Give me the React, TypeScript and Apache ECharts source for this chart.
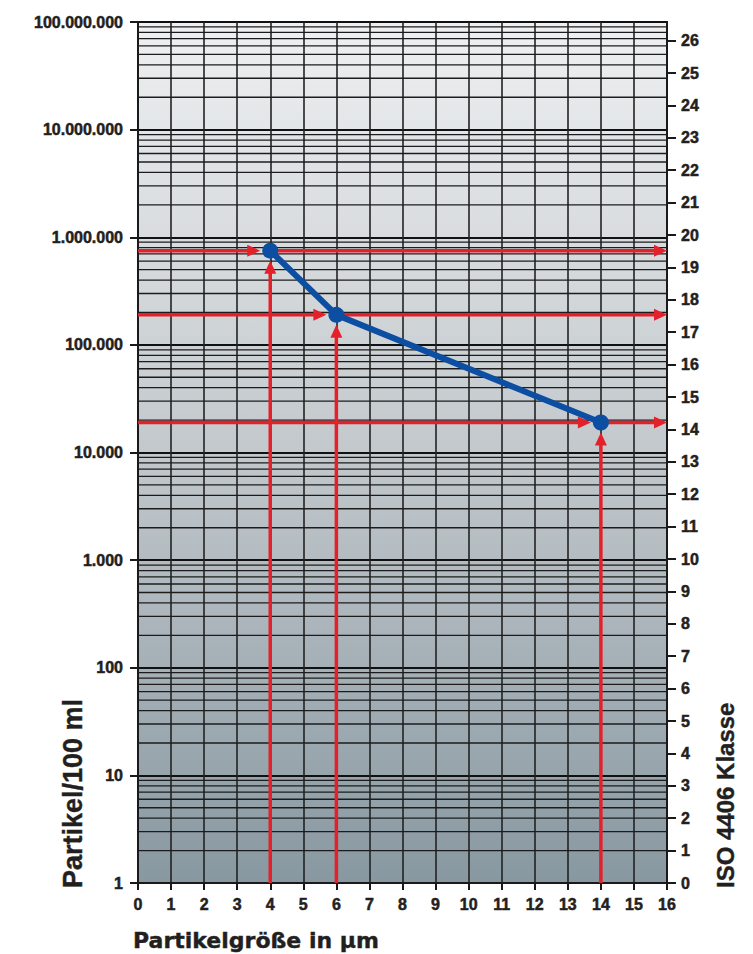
import React, { useEffect, useRef } from 'react';
import * as echarts from 'echarts';

// Measured data (particle size in µm, particles per 100 ml)
const particleSizes = [4, 6, 14];
const particleCounts = [750000, 190000, 19000];

// Axis structure
const sizeTicks = [0, 1, 2, 3, 4, 5, 6, 7, 8, 9, 10, 11, 12, 13, 14, 15, 16];
const isoClasses = [0, 1, 2, 3, 4, 5, 6, 7, 8, 9, 10, 11, 12, 13, 14, 15, 16, 17, 18, 19, 20, 21, 22, 23, 24, 25, 26];
const decades = [1, 10, 100, 1000, 10000, 100000, 1000000, 10000000];
const minorFactors = [2, 3, 4, 5, 6, 7, 8, 9];

const FONT = '"Liberation Sans", Arial, Helvetica, sans-serif';
const WIDE_FONT = '"DejaVu Sans", "Liberation Sans", Arial, sans-serif';
const INK = '#231f20';
const RED = '#e4202a';
const BLUE = '#0c4ea2';

function fmtDE(v: number): string {
  return String(Math.round(v)).replace(/\B(?=(\d{3})+(?!\d))/g, '.');
}

export default function App() {
  const ref = useRef<HTMLDivElement>(null);

  useEffect(() => {
    const chart = echarts.init(ref.current!, null, { renderer: 'svg' });

    const minorValues: number[][] = [];
    decades.forEach((d) => minorFactors.forEach((f) => minorValues.push([0, d * f])));
    const points = particleSizes.map((x, i) => [x, particleCounts[i]]);

    const labelStyle = {
      fontFamily: FONT,
      fontWeight: 'bold',
      color: INK,
      textBorderColor: INK,
      textBorderWidth: 0.5,
    };

    const titleStyle = (text: string, size: number, family: string) => ({
      text,
      font: `bold ${size}px ${family}`,
      fill: INK,
      stroke: INK,
      lineWidth: 0.4,
      align: 'left',
      verticalAlign: 'middle',
      textAlign: 'left',
      textVerticalAlign: 'middle',
    });

    const option: any = {
      animation: false,
      grid: {
        left: 138,
        right: 86,
        top: 22,
        bottom: 71,
        show: true,
        borderColor: '#1a1a1a',
        borderWidth: 2,
        backgroundColor: new echarts.graphic.LinearGradient(0, 0, 0, 1, [
          { offset: 0, color: '#eef0f1' },
          { offset: 0.5, color: '#c2c8cc' },
          { offset: 1, color: '#8898a1' },
        ]),
      },
      xAxis: {
        type: 'value',
        min: sizeTicks[0],
        max: sizeTicks[sizeTicks.length - 1],
        interval: 1,
        axisLine: { show: true, lineStyle: { color: '#1a1a1a', width: 2 } },
        axisTick: { show: true, length: 7, lineStyle: { color: '#1a1a1a', width: 2 } },
        axisLabel: { ...labelStyle, fontSize: 16, margin: 13 },
        splitLine: { show: true, lineStyle: { color: '#222222', width: 1.6 } },
      },
      yAxis: [
        {
          type: 'log',
          logBase: 10,
          min: 1,
          max: 100000000,
          splitNumber: 8,
          position: 'left',
          axisLine: { show: true, lineStyle: { color: '#1a1a1a', width: 2 } },
          axisTick: { show: true, length: 8, lineStyle: { color: '#1a1a1a', width: 2 } },
          axisLabel: { ...labelStyle, fontSize: 16, margin: 15, formatter: (v: number) => fmtDE(v) },
          splitLine: { show: true, lineStyle: { color: '#111111', width: 2.2 } },
        },
        {
          type: 'value',
          position: 'right',
          min: 0,
          max: 8 / Math.log10(2),
          interval: 1,
          axisLine: { show: true, lineStyle: { color: '#1a1a1a', width: 2 } },
          axisTick: { show: true, length: 9, customValues: isoClasses, lineStyle: { color: '#1a1a1a', width: 2 } },
          axisLabel: { ...labelStyle, fontSize: 16, margin: 14, customValues: isoClasses },
          splitLine: { show: false },
        },
      ],
      series: [
        {
          type: 'custom',
          name: 'minor',
          xAxisIndex: 0,
          yAxisIndex: 0,
          z: 1,
          silent: true,
          data: minorValues,
          renderItem: (params: any, api: any) => {
            const cs = params.coordSys;
            const p = api.coord([0, api.value(1)]);
            return {
              type: 'line',
              shape: { x1: cs.x, y1: p[1], x2: cs.x + cs.width, y2: p[1] },
              style: { stroke: '#1c1c1c', lineWidth: 1.3 },
            };
          },
        },
        {
          type: 'custom',
          name: 'arrows',
          xAxisIndex: 0,
          yAxisIndex: 0,
          z: 3,
          silent: true,
          data: points,
          renderItem: (params: any, api: any) => {
            const cs = params.coordSys;
            const p = api.coord([api.value(0), api.value(1)]);
            const gap = 10;
            const len = 13;
            const half = 6;
            const lw = 3.5;
            const left = cs.x;
            const right = cs.x + cs.width;
            const bottom = cs.y + cs.height;
            const st = { stroke: RED, lineWidth: lw };
            const fill = { fill: RED };
            return {
              type: 'group',
              children: [
                { type: 'line', shape: { x1: left, y1: p[1], x2: p[0] - gap - len + 2, y2: p[1] }, style: st },
                {
                  type: 'polygon',
                  shape: { points: [[p[0] - gap, p[1]], [p[0] - gap - len, p[1] - half], [p[0] - gap - len, p[1] + half]] },
                  style: fill,
                },
                { type: 'line', shape: { x1: p[0], y1: p[1], x2: right - len + 2, y2: p[1] }, style: st },
                {
                  type: 'polygon',
                  shape: { points: [[right, p[1]], [right - len, p[1] - half], [right - len, p[1] + half]] },
                  style: fill,
                },
                { type: 'line', shape: { x1: p[0], y1: bottom, x2: p[0], y2: p[1] + gap + len - 2 }, style: st },
                {
                  type: 'polygon',
                  shape: { points: [[p[0], p[1] + gap], [p[0] - half, p[1] + gap + len], [p[0] + half, p[1] + gap + len]] },
                  style: fill,
                },
              ],
            };
          },
        },
        {
          type: 'line',
          name: 'Partikel',
          xAxisIndex: 0,
          yAxisIndex: 0,
          z: 5,
          data: points,
          symbol: 'circle',
          symbolSize: 16,
          lineStyle: { color: BLUE, width: 6 },
          itemStyle: { color: BLUE },
        },
      ],
      graphic: [
        {
          type: 'text',
          x: 133,
          y: 940,
          style: titleStyle('Partikelgröße in µm', 22, WIDE_FONT),
        },
        {
          type: 'text',
          x: 73,
          y: 888,
          rotation: Math.PI / 2,
          style: titleStyle('Partikel/100 ml', 27, FONT),
        },
        {
          type: 'text',
          x: 725,
          y: 888,
          rotation: Math.PI / 2,
          style: titleStyle('ISO 4406 Klasse', 24, FONT),
        },
      ],
    };

    chart.setOption(option);
    return () => chart.dispose();
  }, []);

  return (
    <div
      ref={ref}
      style={{ position: 'fixed', left: 0, top: 0, width: 753, height: 954, background: '#ffffff' }}
    />
  );
}
